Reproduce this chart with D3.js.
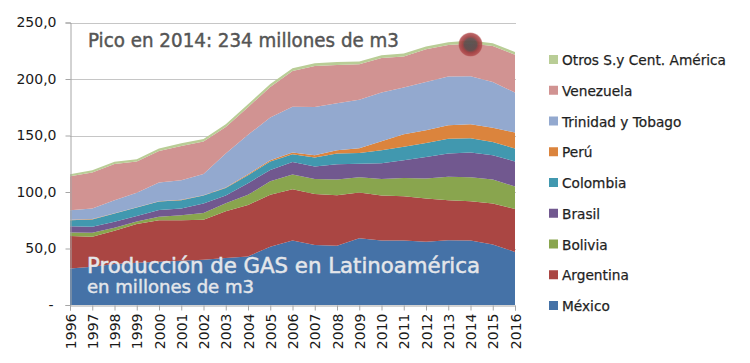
<!DOCTYPE html>
<html>
<head>
<meta charset="utf-8">
<script src="https://cdn.jsdelivr.net/npm/d3@7"></script>
<style>
  html, body { margin: 0; padding: 0; background: #ffffff; }
  svg { display: block; }
  text { font-family: "DejaVu Sans", Verdana, sans-serif; }
</style>
</head>
<body>
<svg id="chart" width="750" height="363"></svg>
<script>
// ---------- DATA ----------
const years = ["1996","1997","1998","1999","2000","2001","2002","2003","2004","2005","2006",
               "2007","2008","2009","2010","2011","2012","2013","2014","2015","2016"];

const mexico    = [32.4,33.9,36.2,37.4,38.3,39.2,40.0,41.5,43.0,51.5,57.0,53.0,52.5,59.0,57.0,57.0,56.0,57.4,57.0,53.5,47.0];
const argentina = [28.6,26.5,29.5,34.2,36.8,35.9,35.5,41.5,45.5,46.0,45.5,45.3,44.7,40.5,40.0,39.3,38.2,35.4,34.8,36.3,38.0];
const bolivia   = [3.2,3.5,2.6,2.2,3.0,4.4,6.0,7.0,9.0,12.0,13.0,13.2,13.8,13.5,14.5,16.2,17.8,20.6,21.2,21.2,19.8];
const brasil    = [5.6,5.3,5.3,5.0,6.0,5.9,8.3,7.0,10.3,10.0,11.0,11.0,13.6,12.0,14.0,15.5,19.0,20.6,22.0,21.5,22.2];
const colombia  = [5.3,6.5,7.4,7.4,7.4,7.4,7.0,6.5,7.0,7.5,7.0,8.0,9.4,9.6,11.5,12.0,12.4,13.2,12.5,11.8,11.4];
const peru      = [0.3,0.3,0.3,0.3,0.4,0.4,0.4,0.5,0.8,1.0,1.5,2.0,3.0,4.2,8.0,11.0,11.2,11.8,12.5,12.6,14.3];
const trinidad  = [8.5,9.4,11.5,12.9,16.4,17.2,18.8,30.0,35.0,38.0,40.5,42.7,41.5,42.9,43.0,41.5,42.7,43.3,42.5,40.4,35.3];
const venezuela = [30.1,31.8,32.0,27.5,28.0,30.4,28.6,23.5,24.5,27.0,31.5,36.3,34.0,31.3,30.5,27.5,29.0,27.7,29.0,31.9,33.5];
const otros     = [1.7,2.0,2.0,2.0,2.3,2.4,2.4,2.5,2.5,2.5,2.5,2.5,2.5,2.5,2.5,2.5,2.5,2.6,2.5,2.5,2.5];

const seriesNames = ["México","Argentina","Bolivia","Brasil","Colombia","Perú","Trinidad y Tobago","Venezuela","Otros S.y Cent. América"];
const seriesValues = [mexico, argentina, bolivia, brasil, colombia, peru, trinidad, venezuela, otros];
const seriesColors = ["#4572A7","#AA4643","#89A54E","#71588F","#4198AF","#DB843D","#93A9CF","#D19392","#B9CD96"];

const yTicks = [0, 50, 100, 150, 200, 250];
const yTickLabels = ["-", "50,0", "100,0", "150,0", "200,0", "250,0"];

const peakYear = "2014";
const titleText = "Pico en 2014: 234 millones de m3";
const overlayMain = "Producción de GAS en Latinoamérica";
const overlaySub = "en millones de m3";

// ---------- BUILD ----------
const svg = d3.select("#chart");
const plot = { left: 70, right: 515, top: 22.5, bottom: 305 };

const x = d3.scalePoint().domain(years).range([plot.left, plot.right]);
const y = d3.scaleLinear().domain([0, 250]).range([plot.bottom, plot.top]);

const table = years.map((yr, i) => {
  const row = { year: yr };
  seriesNames.forEach((n, k) => row[n] = seriesValues[k][i]);
  return row;
});
const stacked = d3.stack().keys(seriesNames)(table);

// gridlines
svg.append("g").selectAll("line").data(yTicks.filter(t => t > 0)).join("line")
  .attr("x1", plot.left).attr("x2", plot.right + 1)
  .attr("y1", d => Math.round(y(d)) + 0.5).attr("y2", d => Math.round(y(d)) + 0.5)
  .attr("stroke", "#c6c6c6").attr("stroke-width", 1);

// areas
const area = d3.area()
  .x(d => x(d.data.year))
  .y0(d => y(d[0]))
  .y1(d => y(d[1]));

svg.append("g").selectAll("path").data(stacked).join("path")
  .attr("d", area)
  .attr("fill", (d, i) => seriesColors[i]);

// y axis
const yAxis = d3.axisLeft(y).tickValues(yTicks).tickSize(5).tickPadding(9)
  .tickFormat((d) => yTickLabels[yTicks.indexOf(d)]);
const gy = svg.append("g").attr("transform", `translate(${plot.left + 0.5},0)`).call(yAxis);
gy.select(".domain").attr("stroke", "#a6a6a6");
gy.selectAll(".tick line").attr("stroke", "#a6a6a6");
gy.selectAll(".tick text").attr("font-size", 14).attr("fill", "#1a1a1a")
  .attr("font-family", "DejaVu Sans");
gy.selectAll(".tick text").filter(d => d === 0).attr("dx", -3);

// x axis
const xAxis = d3.axisBottom(x).tickSize(5).tickPadding(4);
const gx = svg.append("g").attr("transform", `translate(0,${plot.bottom + 0.5})`).call(xAxis);
gx.select(".domain").attr("stroke", "#a6a6a6");
gx.selectAll(".tick line").attr("stroke", "#a6a6a6");
gx.selectAll(".tick text")
  .attr("font-size", 14).attr("fill", "#1a1a1a").attr("font-family", "DejaVu Sans")
  .attr("text-anchor", "end")
  .attr("transform", "rotate(-90)")
  .attr("x", -8).attr("y", 0).attr("dy", "0.36em");

// helper: squeeze DejaVu to a Tahoma-like width
function fitText(sel, width) {
  sel.attr("textLength", width).attr("lengthAdjust", "spacingAndGlyphs");
}

// title
const t1 = svg.append("text").attr("x", 88).attr("y", 47)
  .attr("font-size", 19).attr("fill", "#555555")
  .attr("stroke", "#555555").attr("stroke-width", 0.45)
  .text(titleText);
fitText(t1, 311);

// overlay texts
const t2 = svg.append("text").attr("x", 87).attr("y", 273)
  .attr("font-size", 22).attr("fill", "#e4e6ea")
  .attr("stroke", "#e4e6ea").attr("stroke-width", 0.5)
  .text(overlayMain);
fitText(t2, 393);
const t3 = svg.append("text").attr("x", 87).attr("y", 293)
  .attr("font-size", 18).attr("fill", "#e4e6ea")
  .attr("stroke", "#e4e6ea").attr("stroke-width", 0.45)
  .text(overlaySub);
fitText(t3, 167);

// peak marker
const peakIdx = years.indexOf(peakYear);
const peakTotal = stacked[stacked.length - 1][peakIdx][1];
const defs = svg.append("defs");
const rg = defs.append("radialGradient").attr("id", "peakGrad");
rg.append("stop").attr("offset", "0%").attr("stop-color", "#555050").attr("stop-opacity", 0.95);
rg.append("stop").attr("offset", "50%").attr("stop-color", "#5e4848").attr("stop-opacity", 0.92);
rg.append("stop").attr("offset", "68%").attr("stop-color", "#9c3c3e").attr("stop-opacity", 0.9);
rg.append("stop").attr("offset", "92%").attr("stop-color", "#b0494b").attr("stop-opacity", 0.85);
rg.append("stop").attr("offset", "100%").attr("stop-color", "#b85456").attr("stop-opacity", 0.5);
svg.append("circle").attr("cx", x(peakYear)).attr("cy", y(peakTotal) + 4)
  .attr("r", 12).attr("fill", "url(#peakGrad)");

// legend
const legendOrder = seriesNames.map((n, i) => i).reverse();
const lg = svg.append("g");
const legendTop = 60, legendStep = 30.75;
const items = lg.selectAll("g").data(legendOrder).join("g")
  .attr("transform", (d, j) => `translate(549,${legendTop + j * legendStep})`);
items.append("rect").attr("x", 0).attr("y", -5).attr("width", 9).attr("height", 9)
  .attr("fill", d => seriesColors[d]);
const ltexts = items.append("text").attr("x", 13).attr("y", 0).attr("dy", "0.36em")
  .attr("font-size", 14).attr("fill", "#1f1f1f")
  .attr("stroke", "#1f1f1f").attr("stroke-width", 0.25)
  .text(d => seriesNames[d]);
// compress uniformly so longest label matches reference width
let maxW = 0;
ltexts.each(function() { maxW = Math.max(maxW, this.getComputedTextLength()); });
const factor = 164 / maxW;
ltexts.each(function() {
  const w = this.getComputedTextLength();
  d3.select(this).attr("textLength", w * factor).attr("lengthAdjust", "spacingAndGlyphs");
});
</script>
</body>
</html>
